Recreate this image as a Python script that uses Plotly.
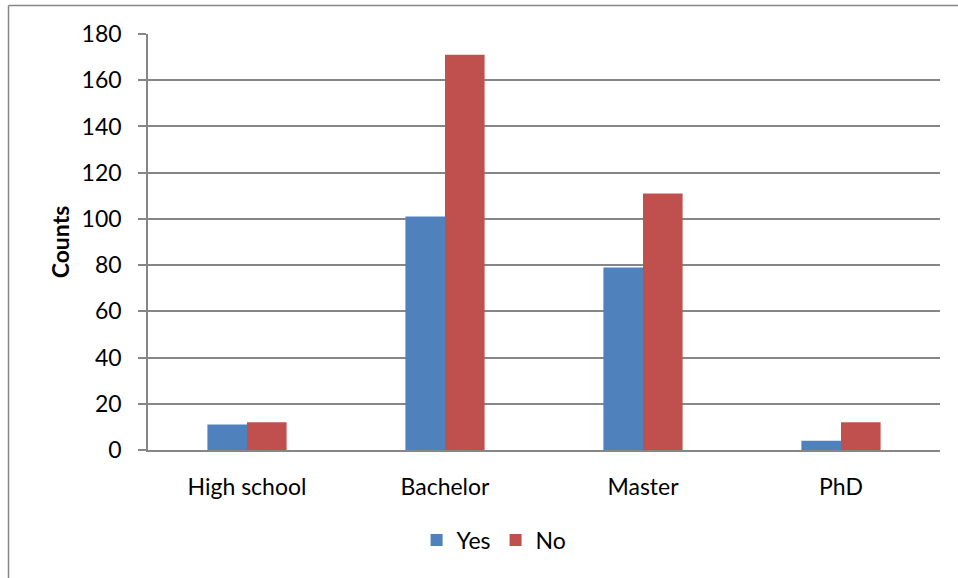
import plotly.graph_objects as go

# Education level counts split by answer
categories = ["High school", "Bachelor", "Master", "PhD"]
yes_counts = [11, 101, 79, 4]
no_counts = [12, 171, 111, 12]
y_ticks = [0, 20, 40, 60, 80, 100, 120, 140, 160, 180]

W, H = 958, 578
ML, MR, MT, MB = 148, 18, 34, 128
PW, PH = W - ML - MR, H - MT - MB

FONT = "Lato"
FS = 23
GRID = "#868686"

fig = go.Figure()
fig.add_trace(go.Bar(name="Yes", x=categories, y=yes_counts,
                     marker=dict(color="#4F81BD", line=dict(width=0))))
fig.add_trace(go.Bar(name="No", x=categories, y=no_counts,
                     marker=dict(color="#C0504D", line=dict(width=0))))


def px_x(p):
    return (p - ML) / PW


def px_y(p):
    return 1 - (p - MT) / PH


# outer chart frame (top and left edges visible)
fig.add_shape(type="line", xref="paper", yref="paper",
              x0=px_x(8.5), x1=px_x(990), y0=px_y(5.5), y1=px_y(5.5),
              line=dict(color="#868686", width=1.5))
fig.add_shape(type="line", xref="paper", yref="paper",
              x0=px_x(8.5), x1=px_x(8.5), y0=px_y(5.5), y1=px_y(620),
              line=dict(color="#868686", width=1.5))

fig.update_layout(
    width=W, height=H,
    margin=dict(l=ML, r=MR, t=MT, b=MB),
    paper_bgcolor="white", plot_bgcolor="white",
    barmode="group", bargap=0.6, bargroupgap=0,
    font=dict(family=FONT, size=FS, color="black"),
    showlegend=True,
    legend=dict(orientation="h", x=0.437, xanchor="center", y=px_y(540), yanchor="middle",
                font=dict(family=FONT, size=FS), itemwidth=30, traceorder="normal"),
)

fig.update_xaxes(
    showline=True, linecolor=GRID, linewidth=1.5,
    showgrid=False, ticks="", ticklabelstandoff=16,
    tickfont=dict(family=FONT, size=FS),
)
fig.update_yaxes(
    range=[0, 180], tickvals=y_ticks,
    showline=True, linecolor=GRID, linewidth=1.5,
    showgrid=True, gridcolor=GRID, gridwidth=1.5,
    ticks="outside", ticklen=8, tickcolor=GRID, tickwidth=1.5,
    ticklabelstandoff=12, zeroline=False,
    tickfont=dict(family=FONT, size=FS),
    title=dict(text="<b>Counts</b>", font=dict(family=FONT, size=23), standoff=6),
)

fig.write_html("out.html")
